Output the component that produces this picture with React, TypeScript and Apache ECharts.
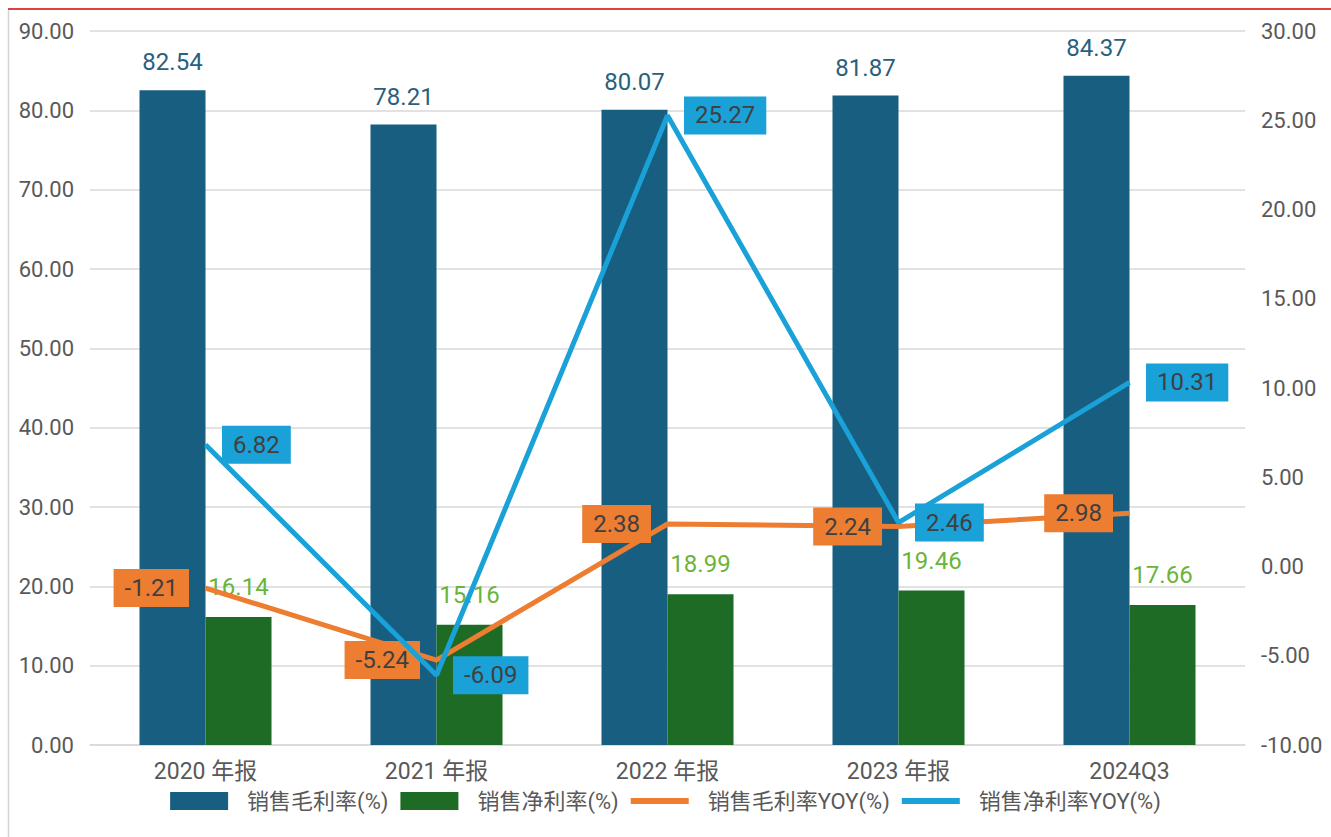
import React, { useEffect, useRef } from "react";
import * as echarts from "echarts";

const categories = ["2020 年报", "2021 年报", "2022 年报", "2023 年报", "2024Q3"];
const grossMargin = [82.54, 78.21, 80.07, 81.87, 84.37];
const netMargin = [16.14, 15.16, 18.99, 19.46, 17.66];
const grossYoy = [-1.21, -5.24, 2.38, 2.24, 2.98];
const netYoy = [6.82, -6.09, 25.27, 2.46, 10.31];
const seriesNames = ["销售毛利率(%)", "销售净利率(%)", "销售毛利率YOY(%)", "销售净利率YOY(%)"];

const FONT = 'Roboto, "Noto Sans CJK SC", sans-serif';
const C_BLUE = "#185e80";
const C_GREEN = "#1d6b25";
const C_ORANGE = "#ed7d31";
const C_LBLUE = "#19a1d8";
const LINE_ICON = "path://M0,0 H60 V6 H0 Z";

export default function App() {
  const ref = useRef<HTMLDivElement>(null);
  useEffect(() => {
    document.body.style.margin = "0";
    const chart = echarts.init(ref.current!, null, { renderer: "svg" });
    const fmt = (v: number) => v.toFixed(2);
    chart.setOption({
      animation: false,
      backgroundColor: "#ffffff",
      textStyle: { fontFamily: FONT },
      graphic: [
        { type: "line", shape: { x1: 8, y1: 9, x2: 1331, y2: 9 }, style: { stroke: "#e04040", lineWidth: 2 } },
        { type: "line", shape: { x1: 8.5, y1: 10, x2: 8.5, y2: 837 }, style: { stroke: "#d4d4d4", lineWidth: 1.5 } },
      ],
      grid: { left: 90, right: 86, top: 31, bottom: 92, containLabel: false },
      legend: {
        bottom: 20,
        left: "center",
        itemWidth: 58,
        itemHeight: 18,
        itemGap: 12,
        textStyle: { fontSize: 22, color: "#595959", fontFamily: FONT, padding: [0, 0, 0, 14] },
        data: [
          { name: seriesNames[0], icon: "rect" },
          { name: seriesNames[1], icon: "rect" },
          { name: seriesNames[2], icon: LINE_ICON },
          { name: seriesNames[3], icon: LINE_ICON },
        ],
      },
      xAxis: {
        type: "category",
        data: categories,
        axisLine: { lineStyle: { color: "#d9d9d9", width: 1.5 } },
        axisTick: { show: false },
        axisLabel: { fontSize: 23, color: "#595959", margin: 15 },
      },
      yAxis: [
        {
          type: "value",
          min: 0,
          max: 90,
          interval: 10,
          axisLabel: { formatter: fmt, fontSize: 22, color: "#595959", margin: 16 },
          splitLine: { lineStyle: { color: "#d9d9d9", width: 1.5 } },
          axisLine: { show: false },
          axisTick: { show: false },
        },
        {
          type: "value",
          min: -10,
          max: 30,
          interval: 5,
          axisLabel: { formatter: fmt, fontSize: 22, color: "#595959", margin: 16 },
          splitLine: { show: false },
          axisLine: { show: false },
          axisTick: { show: false },
        },
      ],
      series: [
        {
          name: seriesNames[0],
          type: "bar",
          data: grossMargin,
          barWidth: 66,
          barGap: "0%",
          itemStyle: { color: C_BLUE },
          label: { show: true, position: "top", distance: 16, fontSize: 24, color: "#2a5f80", formatter: (p: any) => fmt(p.value) },
        },
        {
          name: seriesNames[1],
          type: "bar",
          data: netMargin,
          barWidth: 66,
          barGap: "0%",
          itemStyle: { color: C_GREEN },
          label: { show: true, position: "top", distance: 18, fontSize: 24, color: "#6ab43a", formatter: (p: any) => fmt(p.value) },
        },
        {
          name: seriesNames[2],
          type: "line",
          yAxisIndex: 1,
          data: grossYoy,
          symbol: "circle",
          symbolSize: 1,
          itemStyle: { color: C_ORANGE },
          lineStyle: { color: C_ORANGE, width: 5 },
          label: {
            show: true,
            position: "left",
            distance: 16,
            fontSize: 24,
            color: "#404040",
            backgroundColor: C_ORANGE,
            padding: [7, 11],
            formatter: (p: any) => fmt(p.value),
          },
          z: 3,
        },
        {
          name: seriesNames[3],
          type: "line",
          yAxisIndex: 1,
          data: netYoy,
          symbol: "circle",
          symbolSize: 1,
          itemStyle: { color: C_LBLUE },
          lineStyle: { color: C_LBLUE, width: 5 },
          label: {
            show: true,
            position: "right",
            distance: 16,
            fontSize: 24,
            color: "#404040",
            backgroundColor: C_LBLUE,
            padding: [7, 11],
            formatter: (p: any) => fmt(p.value),
          },
          z: 4,
        },
      ],
    });
    return () => chart.dispose();
  }, []);
  return <div ref={ref} style={{ width: 1331, height: 837 }} />;
}
